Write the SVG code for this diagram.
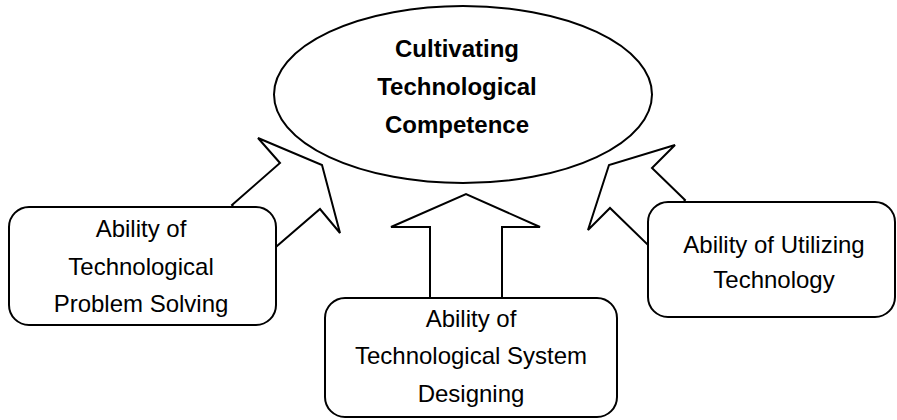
<svg xmlns="http://www.w3.org/2000/svg" width="897" height="420" viewBox="0 0 897 420">
  <style>
    .shape { fill: #ffffff; stroke: #000000; stroke-width: 2; stroke-linejoin: miter; }
    .txt { font-family: "Liberation Sans", Arial, Helvetica, sans-serif; font-size: 24px; fill: #000000; text-anchor: middle; }
    .title { font-weight: bold; }
  </style>
  <rect x="0" y="0" width="897" height="420" fill="#ffffff"/>
  <g id="connectors">
    <polygon class="shape" points="232,205 280,163 258,138 322,165 340,233 320,209 277,246 250,230"/>
    <polygon class="shape" points="430,298 430,227 391,227 466,194 540,227 502,227 502,298"/>
    <polygon class="shape" points="685,200 652,168 675,145 609,165 588,230 610,208 648,245 670,225"/>
  </g>
  <g id="center">
    <ellipse class="shape" cx="463" cy="94.5" rx="189" ry="88.5"/>
    <text class="txt title" x="457" y="57">Cultivating</text>
    <text class="txt title" x="457" y="95">Technological</text>
    <text class="txt title" x="457" y="133">Competence</text>
  </g>
  <g id="problem-solving">
    <rect class="shape" x="9" y="207" width="267" height="118" rx="20" ry="20"/>
    <text class="txt" x="141" y="237">Ability of</text>
    <text class="txt" x="141" y="275">Technological</text>
    <text class="txt" x="141" y="312">Problem Solving</text>
  </g>
  <g id="system-designing">
    <rect class="shape" x="325" y="298" width="292" height="119" rx="20" ry="20"/>
    <text class="txt" x="471" y="327">Ability of</text>
    <text class="txt" x="471" y="364">Technological System</text>
    <text class="txt" x="471" y="402">Designing</text>
  </g>
  <g id="utilizing">
    <rect class="shape" x="648" y="202" width="247" height="115" rx="20" ry="20"/>
    <text class="txt" x="774" y="253">Ability of Utilizing</text>
    <text class="txt" x="774" y="288">Technology</text>
  </g>
</svg>
